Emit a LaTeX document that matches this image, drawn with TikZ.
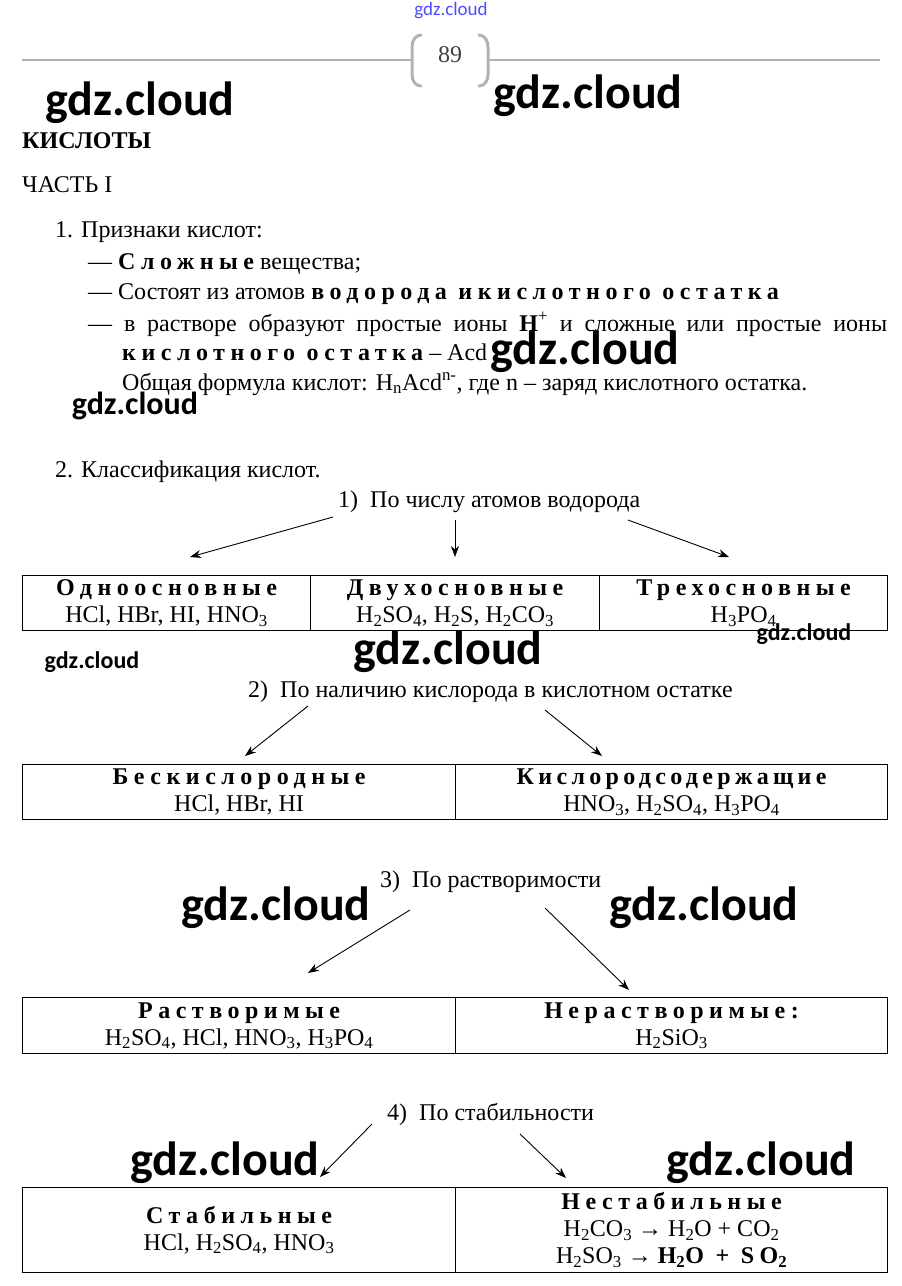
\documentclass[tikz,border=0pt]{standalone}
\usepackage{fontspec}
\setmainfont{Liberation Serif}
\newfontfamily\wmfont{Carlito}
\usetikzlibrary{arrows.meta}
\tikzstyle{line}=[anchor=base west, inner sep=0pt]
\tikzstyle{cell}=[draw, line width=1.2pt, anchor=north west, inner sep=0pt, align=center]
\tikzstyle{arrow}=[-{Stealth[length=11pt, width=8pt]}, line width=0.9pt]
\tikzstyle{wm}=[inner sep=0pt, font=\wmfont\bfseries\fontsize{48}{48}\selectfont]
\tikzstyle{rulegray}=[line width=2.5pt, color=black!30]
\newcommand{\razr}[1]{{\bfseries\addfontfeature{LetterSpace=23}#1}}
\newcommand{\ind}[1]{\textsubscript{#1}}

\begin{document}
\begin{tikzpicture}[x=1pt, y=-1pt, font=\fontsize{24}{27}\selectfont]
\useasboundingbox (0,0) rectangle (902,1286);
% page head
\draw[rulegray] (22,60) -- (411,60);
\draw[rulegray] (489,60) -- (880,60);
\draw[rulegray, line width=3pt, line cap=round] (421,35) to[out=180, in=90] (412,47) -- (412,75) to[out=-90, in=180] (421,86);
\draw[rulegray, line width=3pt, line cap=round] (479,35) to[out=0, in=90] (488,47) -- (488,75) to[out=-90, in=0] (479,86);
\node[inner sep=0pt, text=black!75] (page) at (450,55) {89};

% part I
\node[line] (title) at (22,148) {\textbf{КИСЛОТЫ}};
\node[line] (part)  at (22,192) {ЧАСТЬ I};
\node[line] (p1)    at (55,237) {1. Признаки кислот:};
\node[line] (p11)   at (88,269) {— \razr{Сложные} вещества;};
\node[line] (p12)   at (88,299) {— Состоят из атомов \razr{водорода икислотного остатка}};
\node[line] (p13)   at (88,331) {\makebox[799pt][s]{— в растворе образуют простые ионы \textbf{H}\textsuperscript{+} и сложные или простые ионы}};
\node[line] (p14)   at (122,360) {\razr{кислотного остатка} – Acd};
\node[line] (p15)   at (122,390) {Общая формула кислот: H\ind{n}Acd\textsuperscript{n-}, где n – заряд кислотного остатка.};
\node[line] (p2)    at (55,477) {2. Классификация кислот.};

% 1) by hydrogen atoms
\node[line] (k1) at (338,507) {1)\ \ По числу атомов водорода};
\node[cell, minimum width=288pt, minimum height=55pt] (t11) at (22,575)  {\razr{Одноосновные}\\HCl, HBr, HI, HNO\ind{3}};
\node[cell, minimum width=289pt, minimum height=55pt] (t12) at (310,575) {\razr{Двухосновные}\\H\ind{2}SO\ind{4}, H\ind{2}S, H\ind{2}CO\ind{3}};
\node[cell, minimum width=288pt, minimum height=55pt] (t13) at (599,575) {\razr{Трехосновные}\\H\ind{3}PO\ind{4}};
\coordinate (k1a) at (333,517);
\coordinate (k1b) at (455,520);
\coordinate (k1c) at (628,520);
\coordinate (e11) at (190,557);
\coordinate (e12) at (455,557);
\coordinate (e13) at (729,557);
\draw[arrow] (k1a) -- (e11);
\draw[arrow] (k1b) -- (e12);
\draw[arrow] (k1c) -- (e13);

% 2) by oxygen
\node[line] (k2) at (248,697) {2)\ \ По наличию кислорода в кислотном остатке};
\node[cell, minimum width=433pt, minimum height=55pt] (t21) at (22,764)  {\razr{Бескислородные}\\HCl, HBr, HI};
\node[cell, minimum width=432pt, minimum height=55pt] (t22) at (455,764) {{\bfseries\addfontfeature{LetterSpace=18}Кислородсодержащие}\\HNO\ind{3}, H\ind{2}SO\ind{4}, H\ind{3}PO\ind{4}};
\coordinate (k2a) at (308,706);
\coordinate (k2b) at (545,710);
\coordinate (e21) at (245,756);
\coordinate (e22) at (602,756);
\draw[arrow] (k2a) -- (e21);
\draw[arrow] (k2b) -- (e22);

% 3) by solubility
\node[line] (k3) at (380,887) {3)\ \ По растворимости};
\node[cell, minimum width=433pt, minimum height=56pt] (t31) at (22,997)  {\razr{Растворимые}\\H\ind{2}SO\ind{4}, HCl, HNO\ind{3}, H\ind{3}PO\ind{4}};
\node[cell, minimum width=432pt, minimum height=56pt] (t32) at (455,997) {\razr{Нерастворимые:}\\H\ind{2}SiO\ind{3}};
\coordinate (k3a) at (410,910);
\coordinate (k3b) at (545,908);
\coordinate (e31) at (308,973);
\coordinate (e32) at (629,990);
\draw[arrow] (k3a) -- (e31);
\draw[arrow] (k3b) -- (e32);

% 4) by stability
\node[line] (k4) at (387,1120) {4)\ \ По стабильности};
\node[cell, minimum width=433pt, minimum height=85pt] (t41) at (22,1187)  {\razr{Стабильные}\\HCl, H\ind{2}SO\ind{4}, HNO\ind{3}};
\node[cell, minimum width=432pt, minimum height=85pt] (t42) at (455,1187) {\razr{Нестабильные}\\H\ind{2}CO\ind{3} → H\ind{2}O + CO\ind{2}\\H\ind{2}SO\ind{3} → \razr{H\ind{2}O + SO\ind{2}}};
\coordinate (k4a) at (372,1124);
\coordinate (k4b) at (520,1134);
\coordinate (e41) at (320,1177);
\coordinate (e42) at (566,1178);
\draw[arrow] (k4a) -- (e41);
\draw[arrow] (k4b) -- (e42);

% watermarks
\node[inner sep=0pt, text=blue!70, font=\wmfont\fontsize{19}{19}\selectfont] (wm0) at (451,11) {gdz.cloud};
\node[wm] (wm1)  at (140,103)  {gdz.cloud};
\node[wm] (wm2)  at (588,96)   {gdz.cloud};
\node[wm] (wm3)  at (585,352)  {gdz.cloud};
\node[wm, font=\wmfont\bfseries\fontsize{32}{32}\selectfont] (wm4) at (135,406) {gdz.cloud};
\node[wm] (wm5)  at (448,652)  {gdz.cloud};
\node[wm, font=\wmfont\bfseries\fontsize{24}{24}\selectfont] (wm6) at (92,662)  {gdz.cloud};
\node[wm, font=\wmfont\bfseries\fontsize{24}{24}\selectfont] (wm7) at (804,634) {gdz.cloud};
\node[wm] (wm8)  at (276,908)  {gdz.cloud};
\node[wm] (wm9)  at (704,908)  {gdz.cloud};
\node[wm] (wm10) at (225,1163) {gdz.cloud};
\node[wm] (wm11) at (761,1163) {gdz.cloud};
\end{tikzpicture}
\end{document}
